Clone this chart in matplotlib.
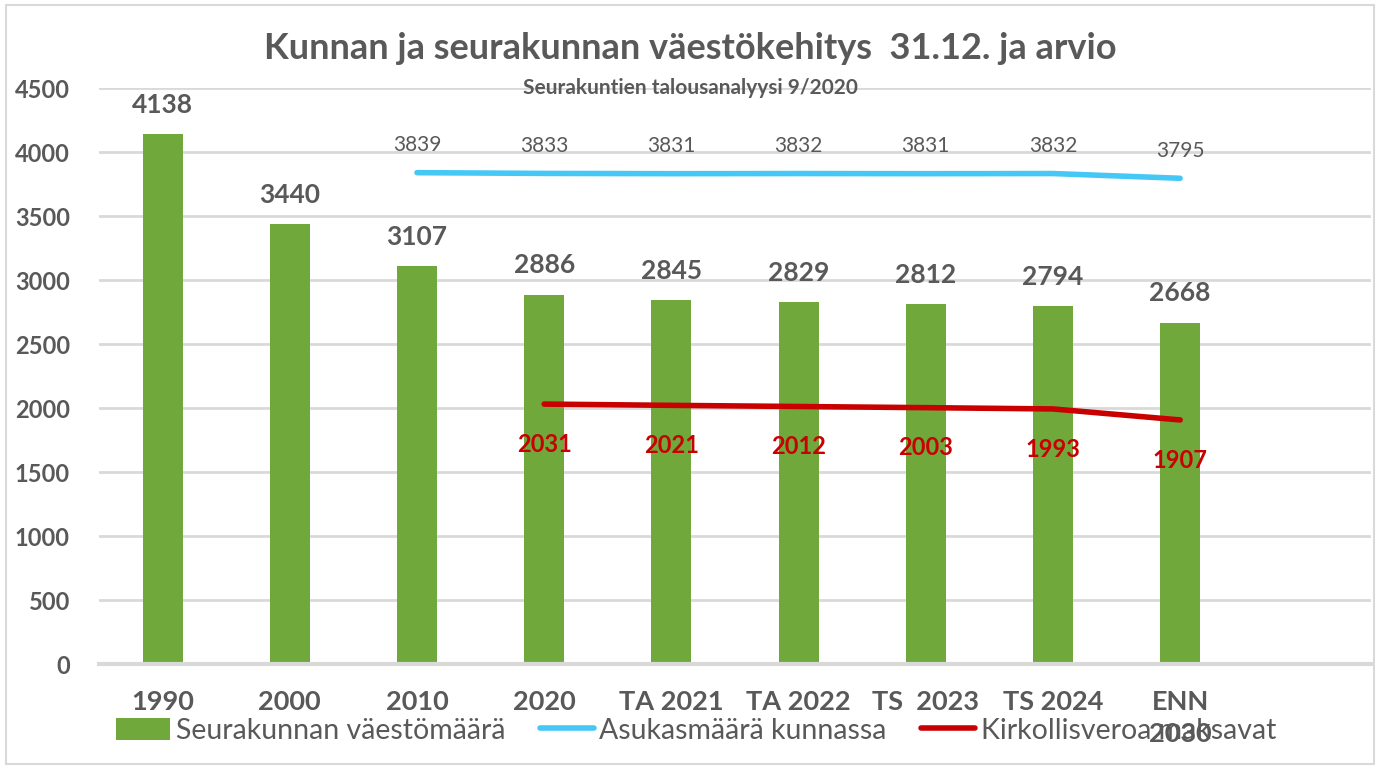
import matplotlib
matplotlib.use("Agg")
import matplotlib.pyplot as plt
import numpy as np

categories = ['1990', '2000', '2010', '2020', 'TA 2021', 'TA 2022', 'TS  2023', 'TS 2024', 'ENN\n2030', '']
seurakunta = [4138, 3440, 3107, 2886, 2845, 2829, 2812, 2794, 2668, None]
asukkaat = [None, None, 3839, 3833, 3831, 3832, 3831, 3832, 3795, None]
kirkollisvero = [None, None, None, 2031, 2021, 2012, 2003, 1993, 1907, None]

green = '#70A83B'
blue = '#45C8F5'
red = '#C80000'
gray = '#595959'

plt.rcParams['font.family'] = ['Lato', 'DejaVu Sans']

fig = plt.figure(figsize=(13.81, 7.69), dpi=100, facecolor='white')
ax = fig.add_axes([0.0717, 0.1365, 0.921, 0.749])

x = np.arange(len(categories))
bar_x = [i for i, v in enumerate(seurakunta) if v is not None]
bar_v = [v for v in seurakunta if v is not None]
h_bar = ax.bar(bar_x, bar_v, width=0.315, color=green, zorder=2, label='Seurakunnan väestömäärä')

bx = [i for i, v in enumerate(asukkaat) if v is not None]
bv = [v for v in asukkaat if v is not None]
h_blue, = ax.plot(bx, bv, color=blue, lw=4, solid_capstyle='round', zorder=3, label='Asukasmäärä kunnassa')

rx = [i for i, v in enumerate(kirkollisvero) if v is not None]
rv = [v for v in kirkollisvero if v is not None]
h_red, = ax.plot(rx, rv, color=red, lw=4, solid_capstyle='round', zorder=3, label='Kirkollisveroa maksavat')

for xi, v in zip(bar_x, bar_v):
    ax.annotate(str(v), (xi, v), xytext=(0, 21), textcoords='offset points',
                ha='center', va='center', fontsize=19, fontweight='bold', color=gray)
for xi, v in zip(bx, bv):
    ax.annotate(str(v), (xi, v), xytext=(0, 20), textcoords='offset points',
                ha='center', va='center', fontsize=15, color=gray)
for xi, v in zip(rx, rv):
    ax.annotate(str(v), (xi, v), xytext=(0, -29), textcoords='offset points',
                ha='center', va='center', fontsize=17, fontweight='bold', color=red)

ax.set_xlim(-0.5, len(categories) - 0.5)
ax.set_ylim(0, 4500)
ax.set_yticks(np.arange(0, 4501, 500))
ax.yaxis.grid(True, color='#D9D9D9', lw=2, zorder=0)
ax.set_axisbelow(True)
for s in ['top', 'right', 'left']:
    ax.spines[s].set_visible(False)
ax.spines['bottom'].set_color('#D9D9D9')
ax.spines['bottom'].set_linewidth(3)
ax.tick_params(axis='both', length=0)
ax.tick_params(axis='y', pad=21, labelsize=17, labelcolor=gray)
ax.tick_params(axis='x', pad=19, labelsize=19.5, labelcolor=gray)
ax.set_xticks(x)
ax.set_xticklabels(categories, va='top', linespacing=1.4)
for lab in ax.get_yticklabels() + ax.get_xticklabels():
    lab.set_fontweight('bold')

fig.text(0.5, 0.937, 'Kunnan ja seurakunnan väestökehitys  31.12. ja arvio',
         ha='center', va='center', fontsize=26, fontweight='bold', color=gray)
fig.text(0.5, 0.886, 'Seurakuntien talousanalyysi 9/2020',
         ha='center', va='center', fontsize=15, fontweight='bold', color=gray)

leg = fig.legend([h_bar, h_blue, h_red],
                 ['Seurakunnan väestömäärä', 'Asukasmäärä kunnassa', 'Kirkollisveroa maksavat'],
                 loc='center', bbox_to_anchor=(0.504, 0.05), ncol=3, frameon=False,
                 fontsize=20.5, labelcolor=gray, handlelength=1.9, handletextpad=0.2,
                 columnspacing=1.2, handleheight=0.8)

fig.patches.append(plt.Rectangle((0.004, 0.006), 0.991, 0.988, transform=fig.transFigure,
                                 fill=False, edgecolor='#D9D9D9', lw=1.5))

fig.savefig('out.png', dpi=100, facecolor='white')
